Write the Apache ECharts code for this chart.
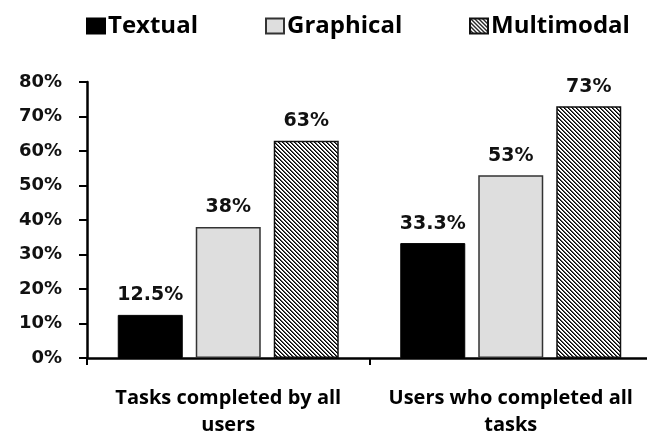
<!DOCTYPE html>
<html>
<head>
<meta charset="utf-8">
<script src="https://cdn.jsdelivr.net/npm/echarts@6/dist/echarts.min.js"></script>
<style>
  html, body { margin: 0; padding: 0; background: #fff; }
  #main { width: 647px; height: 435px; }
</style>
</head>
<body>
<div id="main"></div>
<script>
/* data */
var categories = ['Tasks completed by all\nusers', 'Users who completed all\ntasks'];
var seriesNames = ['Textual', 'Graphical', 'Multimodal'];
var textualValues = [12.5, 33.3];
var graphicalValues = [38, 53];
var multimodalValues = [63, 73];
var valueLabels = [['12.5%', '33.3%'], ['38%', '53%'], ['63%', '73%']];
var yTicks = [0, 10, 20, 30, 40, 50, 60, 70, 80];

/* hatch pattern for multimodal */
function makeHatch() {
    var p = 4;
    var c = document.createElement('canvas');
    c.width = p; c.height = p;
    var ctx = c.getContext('2d');
    ctx.fillStyle = '#fff';
    ctx.fillRect(0, 0, p, p);
    for (var y = 0; y < p; y++) {
        for (var x = 0; x < p; x++) {
            var d = ((x - y) % p + p) % p;
            if (d === 0) { ctx.fillStyle = '#000'; ctx.fillRect(x, y, 1, 1); }
            if (d === 1) { ctx.fillStyle = '#555'; ctx.fillRect(x, y, 1, 1); }
        }
    }
    return c;
}

var labelFont = {
    show: true,
    position: 'top',
    distance: 10,
    fontFamily: 'DejaVu Sans',
    fontWeight: 'bold',
    fontSize: 19,
    color: '#111'
};

function mkSeries(name, values, idx, style) {
    return {
        name: name,
        type: 'bar',
        barWidth: 65,
        barGap: '20%',
        data: values,
        itemStyle: style,
        label: Object.assign({}, labelFont, {
            formatter: function (p) { return valueLabels[idx][p.dataIndex]; }
        })
    };
}

function mkLegend(name, left) {
    return {
        top: 13,
        left: left,
        padding: 0,
        icon: 'rect',
        itemWidth: 18,
        itemHeight: 15,
        textStyle: {
            fontFamily: 'Open Sans',
            fontWeight: 'bold',
            fontSize: 24,
            lineHeight: 26,
            color: '#000',
            padding: [0, 0, 0, -2]
        },
        data: [name]
    };
}

var option = {
    animation: false,
    backgroundColor: '#fff',
    legend: [
        mkLegend(seriesNames[0], 86),
        mkLegend(seriesNames[1], 265),
        mkLegend(seriesNames[2], 469)
    ],
    grid: {
        left: 87,
        right: -5,
        top: 82,
        bottom: 77,
        outerBoundsMode: 'none',
        containLabel: false
    },
    xAxis: {
        type: 'category',
        data: categories,
        axisLine: { lineStyle: { color: '#000', width: 2.5 } },
        axisTick: { show: true, length: 7, lineStyle: { color: '#000', width: 2 } },
        axisLabel: {
            interval: 0,
            margin: 27,
            fontFamily: 'Open Sans',
            fontWeight: 'bold',
            fontSize: 20,
            lineHeight: 27,
            color: '#000'
        }
    },
    yAxis: {
        type: 'value',
        min: 0,
        max: 80,
        interval: 10,
        axisLine: { show: true, lineStyle: { color: '#000', width: 2.5 } },
        axisTick: { show: true, length: 8, lineStyle: { color: '#000', width: 2 } },
        splitLine: { show: false },
        axisLabel: {
            margin: 25,
            fontFamily: 'DejaVu Sans',
            fontWeight: 'bold',
            fontSize: 18,
            color: '#111',
            formatter: function (v) { return yTicks.indexOf(v) >= 0 ? v + '%' : ''; }
        }
    },
    series: [
        mkSeries(seriesNames[0], textualValues, 0, { color: '#000', borderColor: '#000', borderWidth: 1 }),
        mkSeries(seriesNames[1], graphicalValues, 1, { color: '#dedede', borderColor: '#333', borderWidth: 1.5 }),
        mkSeries(seriesNames[2], multimodalValues, 2, {
            color: { image: makeHatch(), repeat: 'repeat' },
            borderColor: '#111',
            borderWidth: 1.5
        })
    ]
};

var myChart = echarts.init(document.getElementById('main'));
myChart.setOption(option);
</script>
</body>
</html>
